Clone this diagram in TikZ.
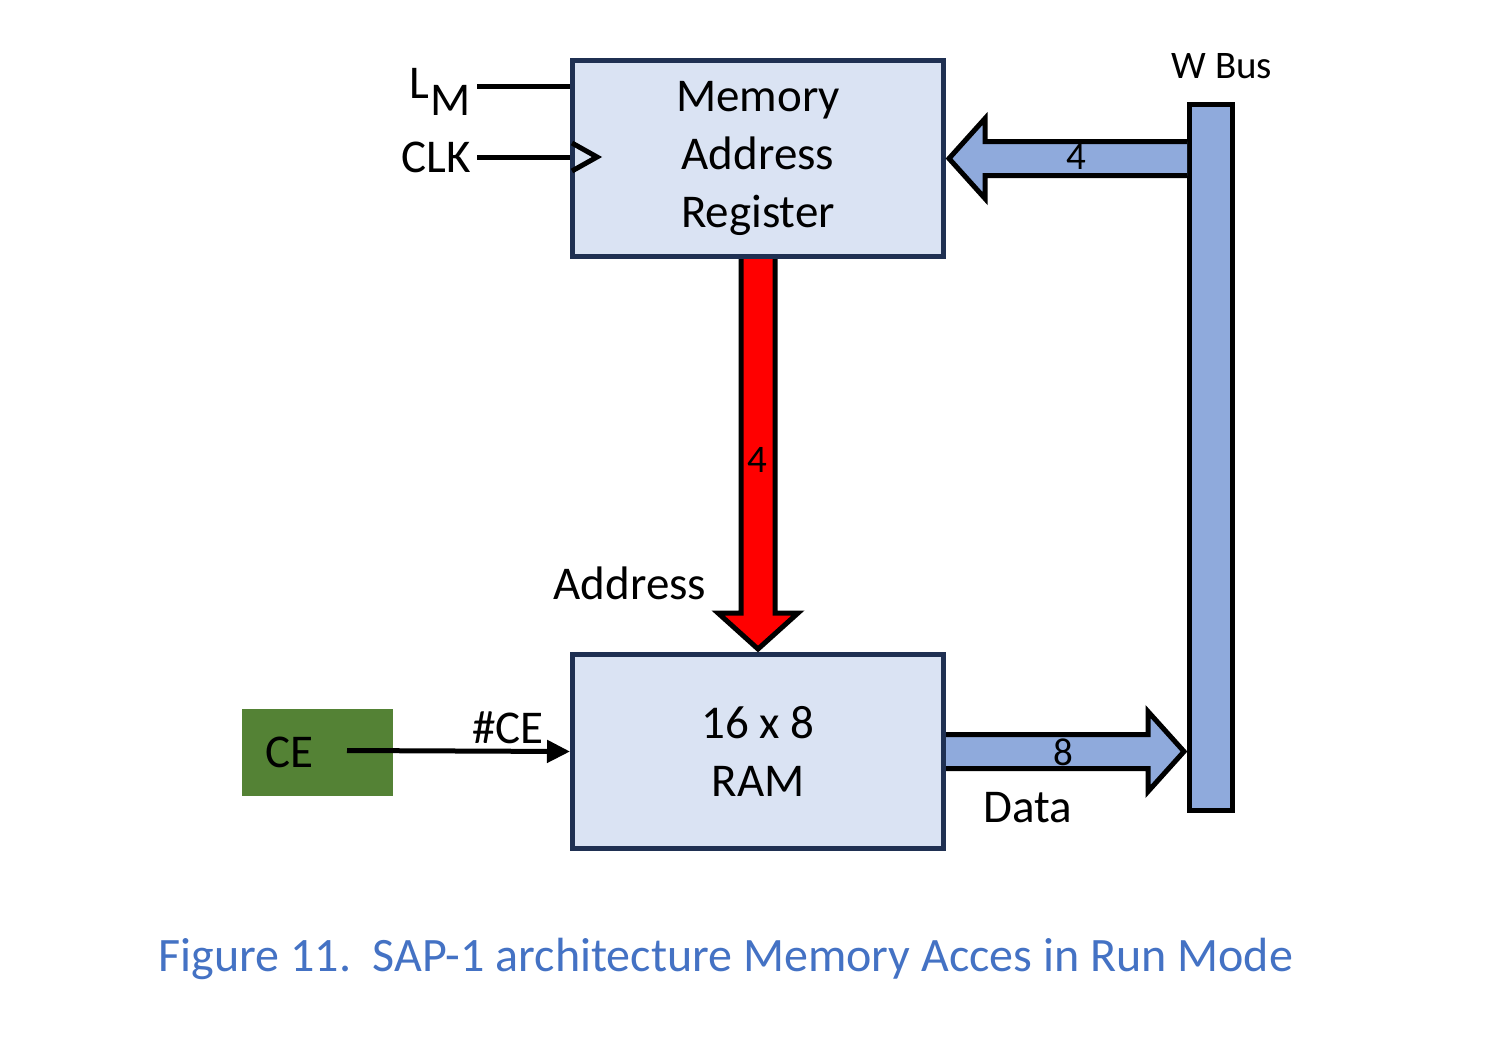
\documentclass[tikz,border=0pt]{standalone}
\usepackage{fontspec}
\setmainfont{Carlito}
\usetikzlibrary{arrows.meta,calc}

\begin{document}
\begin{tikzpicture}[x=0.5pt,y=-0.5pt,
  regbox/.style={draw=boxLine,fill=boxFill,line width=2.5pt,inner sep=0pt,align=center,
    minimum width=185.5pt,font=\fontsize{23.5}{29}\selectfont},
  txt/.style={text=black,inner sep=0pt,outer sep=0pt,font=\fontsize{23.5}{29}\selectfont},
  small/.style={text=black,inner sep=0pt,outer sep=0pt,font=\fontsize{19.5}{24}\selectfont},
  fat/.style={draw=black,line width=2.5pt,line join=miter},
  wire/.style={draw=black,line width=2.5pt}]
\definecolor{boxFill}{RGB}{218,227,243}
\definecolor{boxLine}{RGB}{31,48,82}
\definecolor{busBlue}{RGB}{143,170,220}
\definecolor{ceGreen}{RGB}{84,130,53}
\definecolor{capBlue}{RGB}{68,114,196}
\path[use as bounding box,fill=white] (0,0) rectangle (1494,1056);

% blocks
\node[regbox,minimum height=98pt] (mar) at (758,158.5) {Memory\\Address\\Register};
\node[regbox,minimum height=97pt] (ram) at (758,751.5) {16 x 8\\RAM};
\node[draw=black,fill=busBlue,line width=2.5pt,inner sep=0pt,minimum width=21.5pt,minimum height=353pt] (bus) at (1211,457.5) {};
\node[fill=ceGreen,txt,inner xsep=11.5pt,text width=52.5pt,align=left,minimum height=43.5pt] (ce) at (317.5,752.5) {CE};

% control inputs
\node[txt,anchor=base west] (lm) at (409,98) {L\kern1pt\lower8.5pt\hbox{M}};
\coordinate (lmin) at (477,86);
\draw[wire] (lmin) -- (lmin -| mar.west);
\node[txt,anchor=east] (clk) at (471,157) {CLK};
\draw[wire] ($(clk.east)+(6,0)$) -- (clk.east -| mar.west);
\draw[wire] ($(mar.west |- clk.east)+(2,-14)$) -- ++(25,14) -- ++(-25,14);
\draw[wire,-{Triangle[length=11.5pt,width=11pt]}] ($(ce.east)+(-46,-2)$) -- (ram.west);
\node[txt] (nce) at (508,728) {\#CE};

% W bus to MAR
\path[fat,fill=busBlue] ($(bus.west |- mar.east)+(0,-17)$) -- ($(mar.east)+(39,-17)$) -- ++(0,-23)
  -- ($(mar.east)+(3,0)$) -- ($(mar.east)+(39,40)$) -- ++(0,-23) -- ($(bus.west |- mar.east)+(0,17)$);
\node[small] (n4a) at (1076,157) {4};

% MAR to RAM
\path[fat,fill=red] ($(mar.south)+(-17,0)$) -- ($(ram.north)+(-17,-39)$) -- ++(-23,0)
  -- ($(ram.north)+(0,-3)$) -- ($(ram.north)+(40,-39)$) -- ++(-23,0) -- ($(mar.south)+(17,0)$);
\node[small] (n4b) at (757,460) {4};
\node[txt] (addr) at (630,583) {Address};

% RAM to W bus
\path[fat,fill=busBlue] ($(ram.east)+(0,-17)$) -- ($(bus.west |- ram.east)+(-39,-17)$) -- ++(0,-23)
  -- ($(bus.west |- ram.east)+(-3,0)$) -- ($(bus.west |- ram.east)+(-39,40)$) -- ++(0,-23) -- ($(ram.east)+(0,17)$);
\node[small] (n8) at (1063,752) {8};
\node[txt] (data) at (1028,808) {Data};
\node[small] (wbus) at (1222,66) {W Bus};

\node[inner sep=0pt,text=capBlue,anchor=base,font=\fontsize{24}{29}\selectfont] (cap) at (726,971)
  {Figure 11.\hspace{0.45em}SAP-1 architecture Memory Acces in Run Mode};
\end{tikzpicture}
\end{document}
